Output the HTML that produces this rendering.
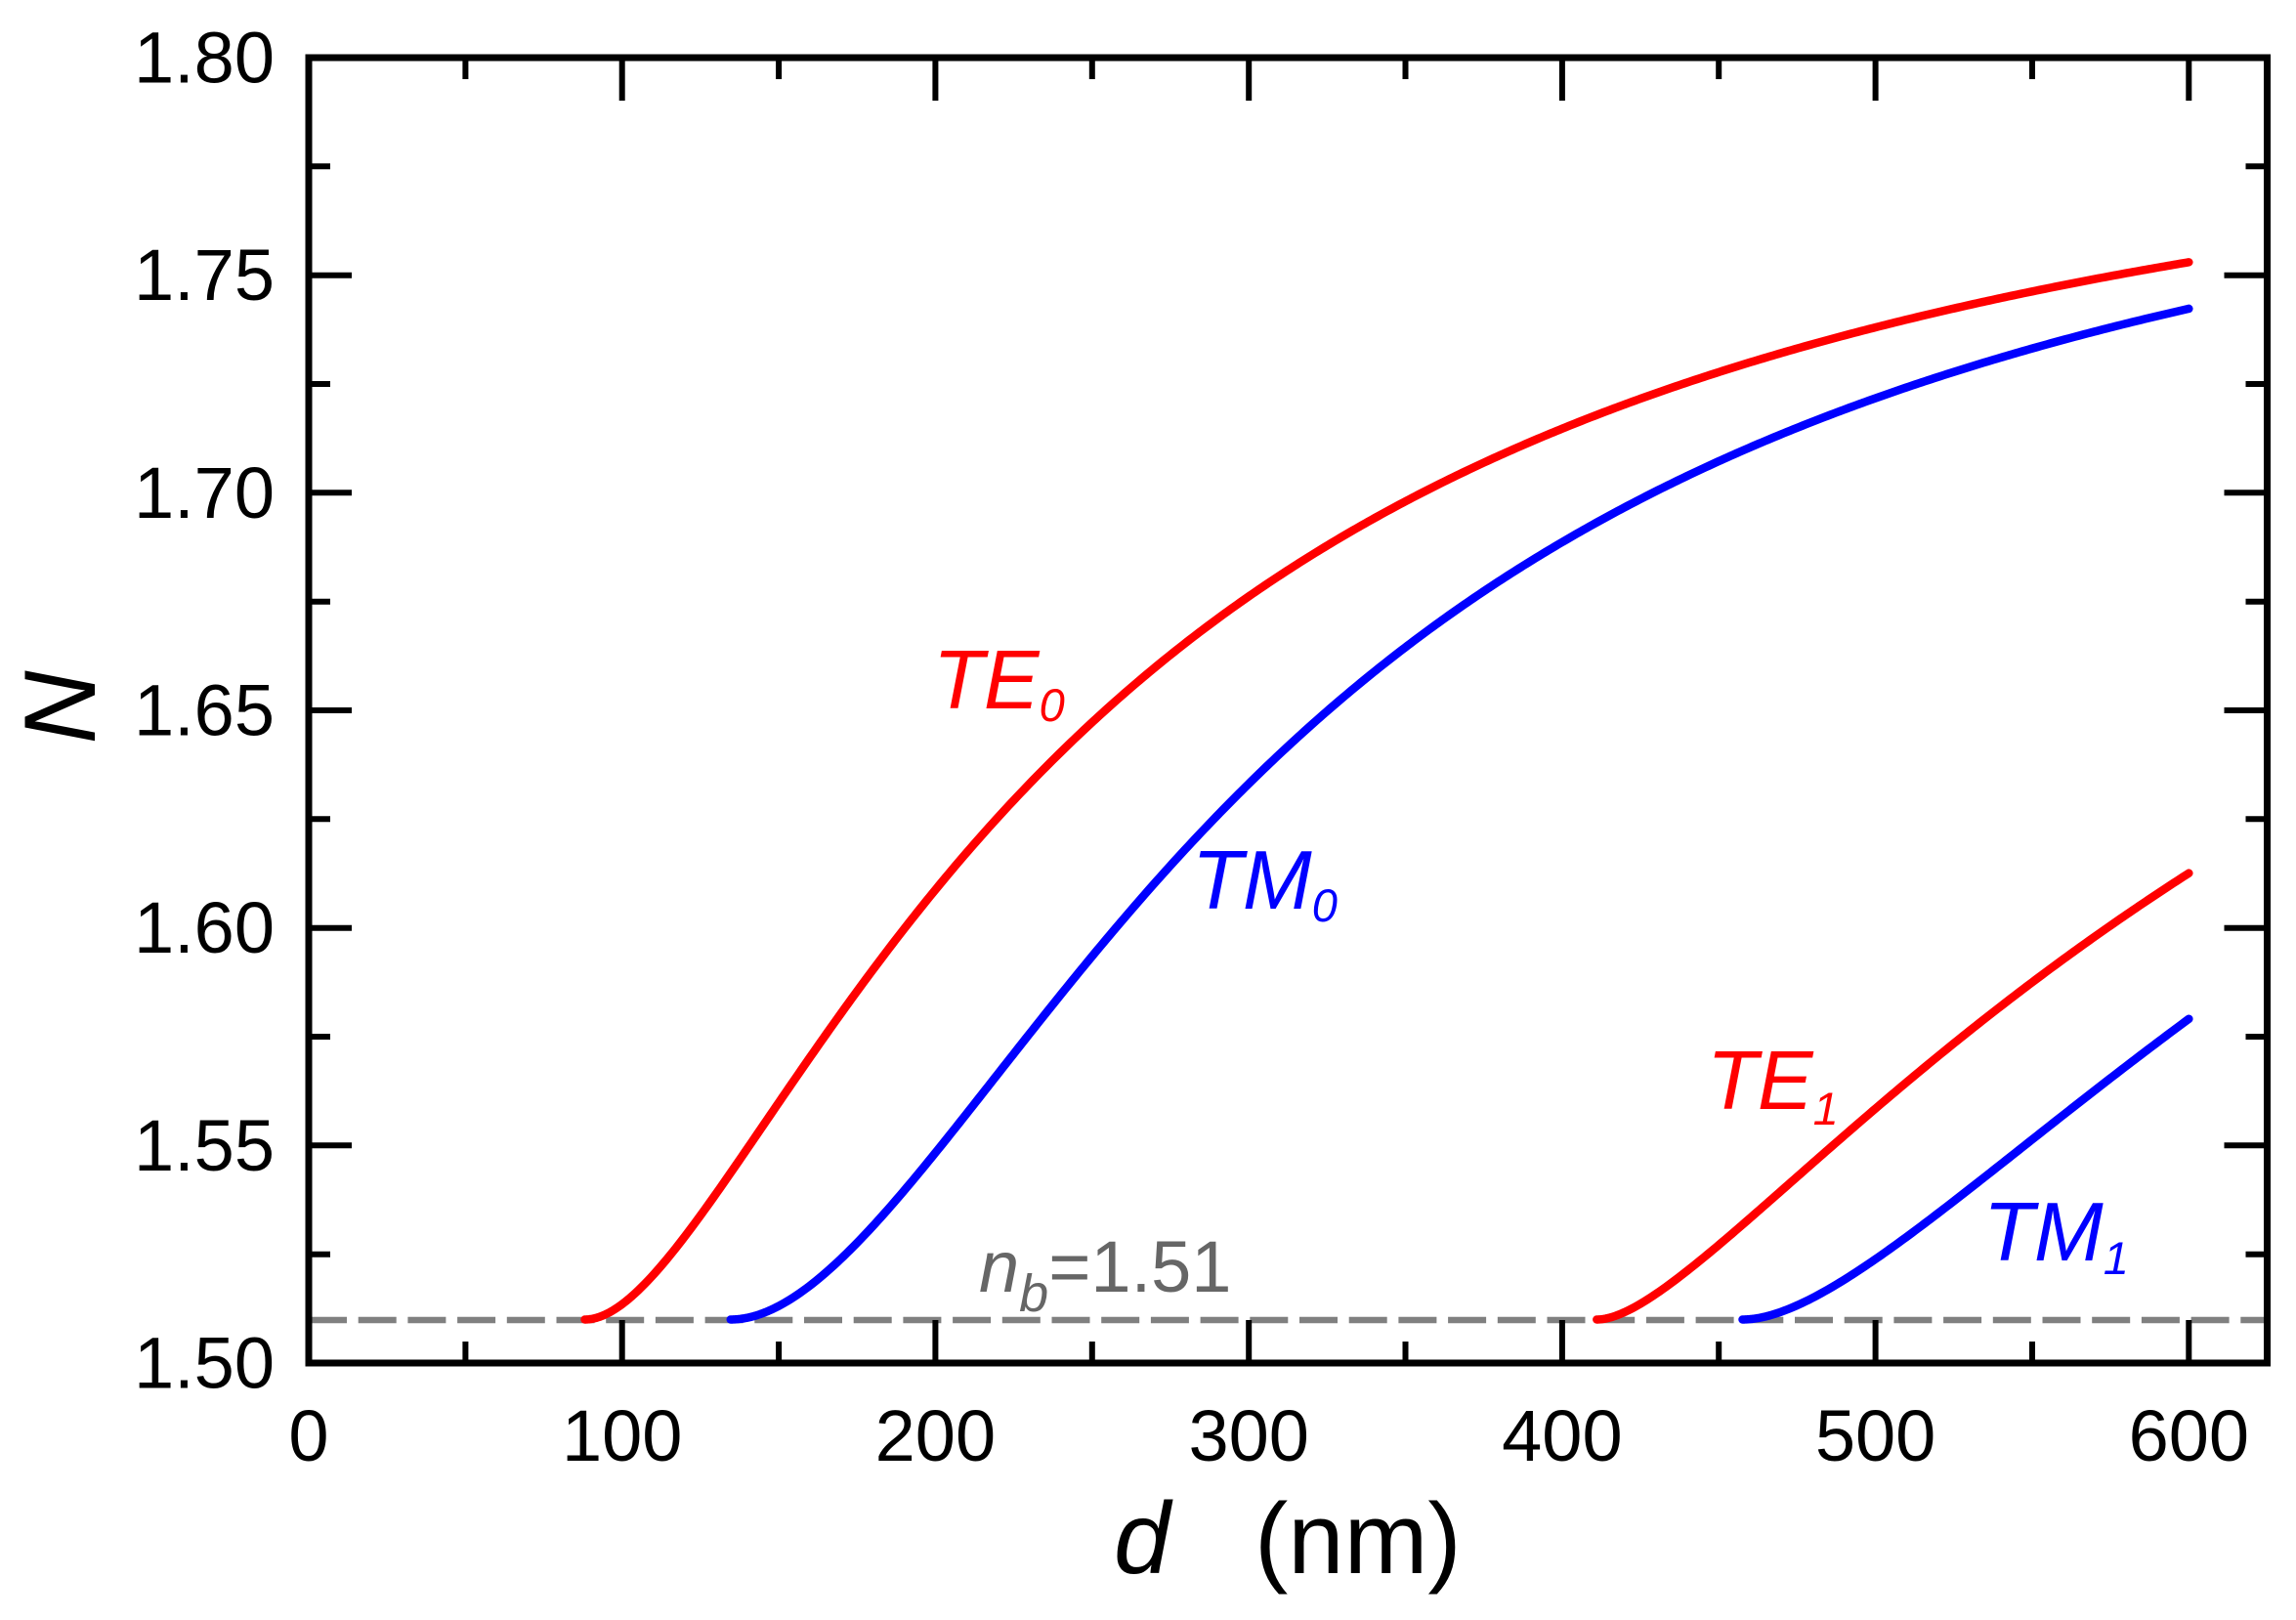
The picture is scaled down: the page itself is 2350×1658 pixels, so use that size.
<!DOCTYPE html>
<html>
<head>
<meta charset="utf-8">
<style>
  html, body { margin: 0; padding: 0; background: #ffffff; }
  svg { display: block; }
  text { font-family: "Liberation Sans", Arial, sans-serif; }
</style>
</head>
<body>
<svg id="chart" width="2350" height="1658" viewBox="0 0 2350 1658" xmlns="http://www.w3.org/2000/svg">
  <rect x="0" y="0" width="2350" height="1658" fill="#ffffff"/>

  <!-- dashed n_b line -->
  <line x1="316" y1="1351" x2="2320" y2="1351" stroke="#808080" stroke-width="6.5" stroke-dasharray="39 11.7"/>

  <!-- curves (fallback paths; replaced by script with exact solution) -->
  <g fill="none" stroke-width="8.5" stroke-linecap="round" stroke-linejoin="round">
    <path id="te0" stroke="#ff0000" d="M598.8,1350.5 C610,1349 617,1345 636,1332 L693.5,1271 L751,1194.6 L808,1114 L865.7,1034 L923,957 L980.5,885 L1038,823.6 L1106.8,751 L1181.5,682 L1267.6,613 L1353.7,558 L1400,536.7 L1472.7,495.9 L1581.8,442.3 L1703,396.4 L1824,360.7 L1945.5,330 L2066.7,302 L2240,268.9"/>
    <path id="tm0" stroke="#0000ff" d="M748,1350.5 C765,1349 780,1343 800,1334 L893,1253 L1000,1128 L1118,979 L1240,842 L1390,697 L1460,649 L1551,588 L1642,532 L1733,486 L1824,445 L1915,409 L2006,379 L2097,351.5 L2240,316"/>
    <path id="te1" stroke="#ff0000" d="M1636.7,1350.5 C1650,1349 1660,1346 1667.3,1343 L1703,1320 L1754,1278 L1805,1232.5 L1881.6,1158.8 L1958,1092 L2034.7,1032.5 L2111,979.8 L2162,946.5 L2240,893.9"/>
    <path id="tm1" stroke="#0000ff" d="M1784.7,1350.5 C1800,1349.5 1808,1348 1815.3,1346.5 L1856,1334 L1907,1309.6 L1958,1278 L2009,1239.5 L2060,1201 L2111,1158.8 L2162,1113 L2240,1042.3"/>
  </g>

  <!-- frame -->
  <rect x="316" y="59" width="2004.5" height="1336" fill="none" stroke="#000000" stroke-width="7"/>

  <!-- ticks -->
  <g id="ticks" stroke="#000000" stroke-width="6" fill="none">
    <path d="M636.7,1395V1351 M957.4,1395V1351 M1278.2,1395V1351 M1598.9,1395V1351 M1919.6,1395V1351 M2240.3,1395V1351"/>
    <path d="M636.7,59V103 M957.4,59V103 M1278.2,59V103 M1598.9,59V103 M1919.6,59V103 M2240.3,59V103"/>
    <path d="M476.4,1395V1373 M797.1,1395V1373 M1117.8,1395V1373 M1438.5,1395V1373 M1759.2,1395V1373 M2080,1395V1373"/>
    <path d="M476.4,59V81 M797.1,59V81 M1117.8,59V81 M1438.5,59V81 M1759.2,59V81 M2080,59V81"/>
    <path d="M316,1172.3H360 M316,949.7H360 M316,727H360 M316,504.3H360 M316,281.7H360"/>
    <path d="M2320.5,1172.3H2276.5 M2320.5,949.7H2276.5 M2320.5,727H2276.5 M2320.5,504.3H2276.5 M2320.5,281.7H2276.5"/>
    <path d="M316,1283.7H338 M316,1061H338 M316,838.3H338 M316,615.7H338 M316,393H338 M316,170.3H338"/>
    <path d="M2320.5,1283.7H2298.5 M2320.5,1061H2298.5 M2320.5,838.3H2298.5 M2320.5,615.7H2298.5 M2320.5,393H2298.5 M2320.5,170.3H2298.5"/>
  </g>

  <!-- y tick labels -->
  <g font-size="74" fill="#000000" text-anchor="end">
    <text x="281" y="1420.5">1.50</text>
    <text x="281" y="1197.8">1.55</text>
    <text x="281" y="975.2">1.60</text>
    <text x="281" y="752.5">1.65</text>
    <text x="281" y="529.8">1.70</text>
    <text x="281" y="307.2">1.75</text>
    <text x="281" y="84.5">1.80</text>
  </g>

  <!-- x tick labels -->
  <g font-size="74" fill="#000000" text-anchor="middle">
    <text x="316" y="1495">0</text>
    <text x="636.7" y="1495">100</text>
    <text x="957.4" y="1495">200</text>
    <text x="1278.2" y="1495">300</text>
    <text x="1598.9" y="1495">400</text>
    <text x="1919.6" y="1495">500</text>
    <text x="2240.3" y="1495">600</text>
  </g>

  <!-- axis titles -->
  <text x="1140" y="1610" font-size="104" font-style="italic" fill="#000000">d</text>
  <text x="1284" y="1610" font-size="103" fill="#000000">(nm)</text>
  <text transform="translate(97,724) rotate(-90)" font-size="104" font-style="italic" fill="#000000" text-anchor="middle">N</text>

  <!-- curve labels -->
  <text x="955" y="725" font-size="85" font-style="italic" fill="#ff0000">TE<tspan font-size="47" dy="13">0</tspan></text>
  <text x="1220" y="930" font-size="85" font-style="italic" fill="#0000ff">TM<tspan font-size="47" dy="13">0</tspan></text>
  <text x="1747" y="1135" font-size="85" font-style="italic" fill="#ff0000">TE<tspan font-size="47" dy="16">1</tspan></text>
  <text x="2030" y="1290" font-size="85" font-style="italic" fill="#0000ff">TM<tspan font-size="47" dy="14">1</tspan></text>

  <!-- n_b label -->
  <text x="1002" y="1322" font-size="74" fill="#666666"><tspan font-style="italic">n</tspan><tspan font-style="italic" font-size="54" dy="20">b</tspan><tspan dy="-20">=1.51</tspan></text>
</svg>

<script>
(function () {
  try {
    var nf = 1.80, ns = 1.51, nc = 1.0, lam = 632.8;
    var k = 2 * Math.PI / lam;
    var X0 = 316, SX = 2004.5 / 625, Y0 = 1395, SY = 1336 / 0.30;

    function f(N, d, m, tm) {
      var a = nf * nf - N * N;
      var h = Math.sqrt(a);
      var rs = tm ? (nf * nf) / (ns * ns) : 1;
      var rc = tm ? (nf * nf) / (nc * nc) : 1;
      return k * d * h - m * Math.PI
        - Math.atan(rs * Math.sqrt(Math.max(0, N * N - ns * ns) / a))
        - Math.atan(rc * Math.sqrt(Math.max(0, N * N - nc * nc) / a));
    }
    function solve(d, m, tm) {
      var lo = ns, hi = nf - 1e-9;
      if (f(lo, d, m, tm) <= 0) return ns;
      for (var i = 0; i < 70; i++) {
        var mid = 0.5 * (lo + hi);
        if (f(mid, d, m, tm) > 0) lo = mid; else hi = mid;
      }
      return 0.5 * (lo + hi);
    }
    function cutoff(m, tm) {
      var rc = tm ? (nf * nf) / (nc * nc) : 1;
      var NA = Math.sqrt(nf * nf - ns * ns);
      return (m * Math.PI + Math.atan(rc * Math.sqrt((ns * ns - nc * nc) / (nf * nf - ns * ns)))) / (k * NA);
    }
    function build(m, tm) {
      var dc = cutoff(m, tm);
      var pts = [];
      pts.push([X0 + dc * SX, Y0 - (ns - 1.5) * SY]);
      var d = dc + 0.1;
      while (d < 600) {
        var N = solve(d, m, tm);
        pts.push([X0 + d * SX, Y0 - (N - 1.5) * SY]);
        d += (d - dc < 10) ? 0.25 : 1.0;
      }
      var Ne = solve(600, m, tm);
      pts.push([X0 + 600 * SX, Y0 - (Ne - 1.5) * SY]);
      var s = "M" + pts[0][0].toFixed(2) + "," + pts[0][1].toFixed(2);
      for (var i = 1; i < pts.length; i++) {
        s += " L" + pts[i][0].toFixed(2) + "," + pts[i][1].toFixed(2);
      }
      return s;
    }
    document.getElementById("te0").setAttribute("d", build(0, false));
    document.getElementById("tm0").setAttribute("d", build(0, true));
    document.getElementById("te1").setAttribute("d", build(1, false));
    document.getElementById("tm1").setAttribute("d", build(1, true));
  } catch (e) { /* keep fallback paths */ }
})();
</script>
</body>
</html>
